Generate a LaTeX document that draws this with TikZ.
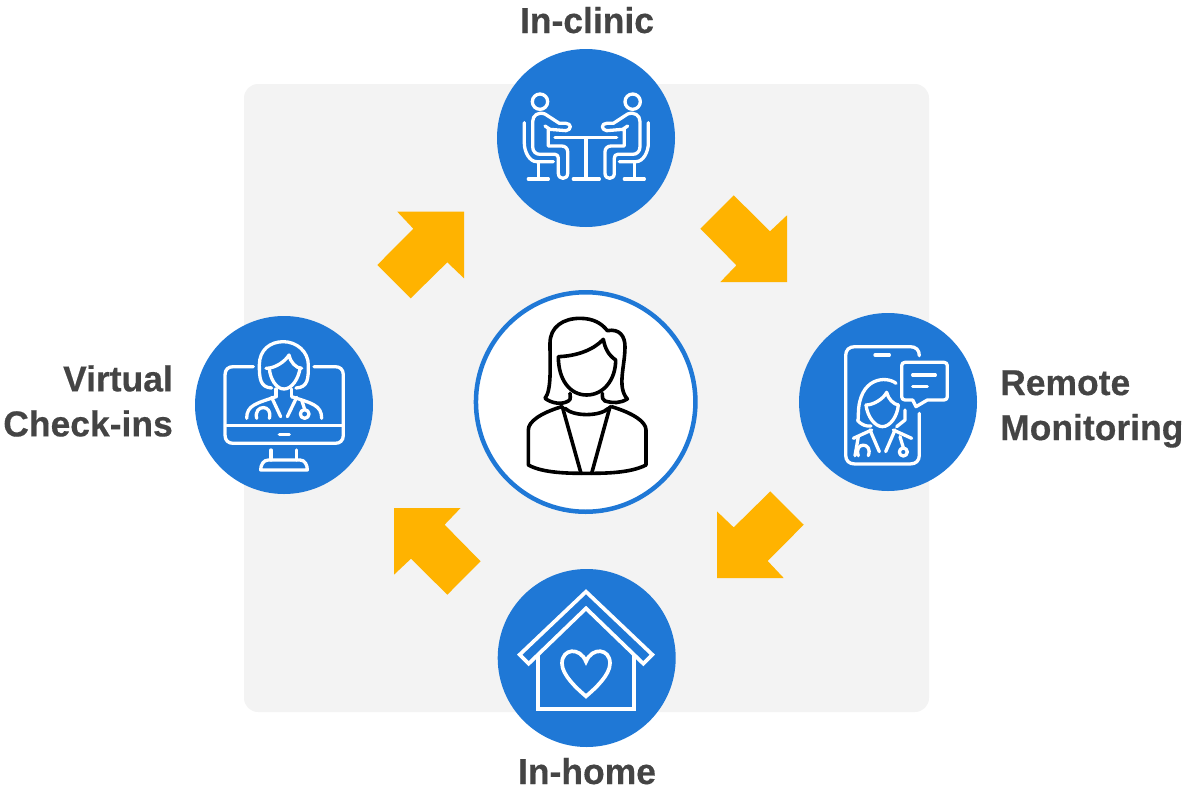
\documentclass[tikz,border=0pt]{standalone}
\usepackage{fontspec}
\setmainfont[FakeStretch=0.985,FakeBold=0.4]{Liberation Sans}
\definecolor{panelgrey}{HTML}{F3F3F3}
\definecolor{hubblue}{HTML}{1F78D6}
\definecolor{amber}{HTML}{FFB300}
\definecolor{labelgrey}{HTML}{444444}
\tikzset{
  hub/.style={circle,fill=hubblue,minimum size=178pt,inner sep=0pt,draw=none},
  centre/.style={circle,fill=white,draw=hubblue,line width=4.5pt,minimum size=219.5pt,inner sep=0pt},
  lab/.style={font=\fontsize{36}{45}\selectfont\bfseries,text=labelgrey,inner sep=0pt},
  blockarrow/.style={fill=amber,draw=none},
  ico/.style={draw=white,line width=3.3pt,line cap=round,line join=round},
  blk/.style={draw=black,line width=3.6pt,line cap=round,line join=round},
  zoomed/.style={x=0.33333pt,y=-0.33333pt}
}
\newcommand{\clinicperson}{%
  \draw[ico] (150,185) circle (23);
  \draw[ico] (165,258) -- (180,268) -- (228,272) .. controls (245,270) and (245,250) .. (228,250) -- (208,250) -- (165,222)
     .. controls (145,215) and (128,225) .. (128,245) -- (128,320) .. controls (128,335) and (138,343) .. (150,343) -- (195,343)
     .. controls (202,343) and (205,348) .. (205,355) -- (205,400) .. controls (205,420) and (233,420) .. (233,400) -- (233,335)
     .. controls (233,325) and (225,318) .. (215,318) -- (175,318) -- (175,268);
  \draw[ico] (103,248) -- (103,310) .. controls (103,335) and (118,365) .. (140,365) -- (190,365);
  \draw[ico] (145,365) -- (145,417);
  \draw[ico] (115,417) -- (175,417);
}
\begin{document}
\begin{tikzpicture}[x=1pt,y=-1pt]
\useasboundingbox (0,0) rectangle (1186,790);
\fill[panelgrey,rounded corners=14pt] (244,84) rectangle (929,712);

% block arrows
\fill[blockarrow] (464,211.7) -- (397.3,211.7) -- (413.3,228.7) -- (377.3,265) -- (410.7,298.3) -- (447.3,262.3) -- (464,278.3) -- cycle;
\fill[blockarrow] (787,282) -- (787,215.3) -- (770,231.3) -- (733.7,195.3) -- (700.4,228.7) -- (736.4,265.3) -- (720.4,282) -- cycle;
\fill[blockarrow] (717,578) -- (783.7,578) -- (767.7,561) -- (803.7,524.7) -- (770.3,491.4) -- (733.7,527.4) -- (717,511.4) -- cycle;
\fill[blockarrow] (394,508) -- (394,574.7) -- (411,558.7) -- (447.3,594.7) -- (480.6,561.3) -- (444.6,524.7) -- (460.6,508) -- cycle;

% circles
\node[hub] (clinic) at (586,138) {};
\node[hub] (remote) at (888,402) {};
\node[hub] (virtual) at (284,405) {};
\node[hub] (home) at (586.7,658) {};
\node[centre] (patient) at (585.7,402) {};

% labels
\node[lab,anchor=base] (clinicl) at (587,33) {In-clinic};
\node[lab,anchor=base] (homel) at (587,784) {In-home};
\node[lab,anchor=east,align=right] (virtuall) at (173,401) {Virtual\\Check-ins};
\node[lab,anchor=west,align=left] (remotel) at (1000,409) {Remote\\Monitoring};

% in-clinic icon
\begin{scope}[shift={(490,40)},zoomed]
  \clinicperson
  \begin{scope}[shift={(578,0)},xscale=-1]
    \clinicperson
  \end{scope}
  \draw[ico] (195,293) -- (380,293);
  \draw[ico] (288,293) -- (288,417);
  \draw[ico] (250,417) -- (328,417);
\end{scope}

% remote icon
\begin{scope}[shift={(790,305)},zoomed]
  \draw[ico] (388,152) .. controls (388,135) and (378,125) .. (360,125) -- (195,125) .. controls (177,125) and (167,135) .. (167,152)
     -- (167,450) .. controls (167,467) and (177,477) .. (195,477) -- (360,477) .. controls (378,477) and (388,467) .. (388,450) -- (388,325);
  \draw[ico] (255,150) -- (298,150);
  \draw[ico] (345,172) -- (462,172) .. controls (468,172) and (472,176) .. (472,182) -- (472,275) .. controls (472,281) and (468,285) .. (462,285)
     -- (412,285) -- (378,305) -- (368,285) -- (345,285) .. controls (339,285) and (335,281) .. (335,275) -- (335,182) .. controls (335,176) and (339,172) .. (345,172) -- cycle;
  \draw[ico] (368,210) -- (436,210);
  \draw[ico] (368,245) -- (412,245);
  \draw[ico] (318,235) .. controls (290,212) and (205,215) .. (205,330) .. controls (205,340) and (205,345) .. (203,347) .. controls (215,360) and (230,365) .. (243,363);
  \draw[ico] (228,300) .. controls (250,300) and (280,282) .. (290,262) .. controls (295,282) and (310,298) .. (325,300);
  \draw[ico] (228,300) .. controls (232,335) and (255,365) .. (277,365) .. controls (300,365) and (322,335) .. (325,300);
  \draw[ico] (345,315) -- (345,345) -- (320,365);
  \draw[ico] (190,400) -- (245,375);
  \draw[ico] (365,400) -- (310,375);
  \draw[ico] (240,375) -- (268,440);
  \draw[ico] (315,375) -- (287,440);
  \draw[ico] (205,395) -- (195,452);
  \draw[ico] (205,452) .. controls (190,410) and (250,410) .. (235,452);
  \draw[ico] (330,395) -- (340,428);
  \draw[ico] (340,441) circle (12);
\end{scope}

% virtual icon
\begin{scope}[shift={(190,310)},zoomed]
  \draw[ico] (190,170) -- (130,170) .. controls (115,170) and (105,178) .. (105,195) -- (105,375) .. controls (105,392) and (115,400) .. (130,400)
     -- (435,400) .. controls (450,400) and (460,392) .. (460,375) -- (460,195) .. controls (460,178) and (450,170) .. (435,170) -- (372,170);
  \draw[ico] (110,347) -- (455,347);
  \draw[ico] (268,373) -- (298,373);
  \draw[ico] (243,420) -- (243,450);
  \draw[ico] (320,420) -- (320,450);
  \draw[ico] (235,450) -- (330,450) .. controls (345,450) and (352,465) .. (352,480) -- (212,480) .. controls (212,465) and (220,450) .. (235,450) -- cycle;
  \draw[ico] (245,234) .. controls (210,232) and (208,205) .. (208,165) .. controls (208,120) and (240,95) .. (280,95)
     .. controls (320,95) and (355,125) .. (355,165) .. controls (355,205) and (355,232) .. (318,234);
  \draw[ico] (228,175) .. controls (255,175) and (285,155) .. (297,135) .. controls (300,155) and (318,175) .. (335,175);
  \draw[ico] (238,175) .. controls (240,205) and (258,237) .. (282,237) .. controls (306,237) and (326,205) .. (330,175);
  \draw[ico] (258,237) -- (258,260);
  \draw[ico] (305,237) -- (305,260);
  \draw[ico] (170,325) .. controls (170,285) and (200,280) .. (258,260);
  \draw[ico] (395,325) .. controls (395,285) and (365,280) .. (305,260);
  \draw[ico] (245,262) -- (272,320);
  \draw[ico] (320,262) -- (292,320);
  \draw[ico] (200,325) .. controls (190,282) and (250,282) .. (238,325);
  \draw[ico] (335,270) -- (344,298);
  \draw[ico] (344,312) circle (13);
\end{scope}

% patient icon
\begin{scope}[shift={(470,290)},zoomed]
  \draw[blk] (300,310) .. controls (302,330) and (300,330) .. (295,333) .. controls (275,345) and (245,340) .. (225,325)
     .. controls (245,300) and (240,230) .. (240,160) .. controls (240,110) and (280,85) .. (330,85)
     .. controls (370,85) and (395,100) .. (412,122) .. controls (450,115) and (465,140) .. (465,170)
     .. controls (465,230) and (440,290) .. (472,327) .. controls (450,340) and (430,340) .. (405,333) .. controls (398,330) and (397,325) .. (397,310);
  \draw[blk] (265,200) .. controls (320,198) and (370,180) .. (400,148) .. controls (405,175) and (415,195) .. (437,210)
     .. controls (437,270) and (400,315) .. (350,315) .. controls (300,315) and (265,270) .. (265,200) -- cycle;
  \draw[blk] (275,350) .. controls (210,370) and (175,395) .. (175,420) -- (175,525) .. controls (220,550) and (300,550) .. (350,550)
     .. controls (400,550) and (480,550) .. (528,525) -- (528,420) .. controls (528,395) and (490,370) .. (425,350);
  \draw[blk] (285,355) .. controls (310,380) and (390,380) .. (415,355);
  \draw[blk] (277,350) -- (333,550);
  \draw[blk] (420,350) -- (365,550);
\end{scope}

% home icon
\begin{scope}[shift={(490,565)},zoomed]
  \draw[draw=white,line width=3.7pt,miter limit=10] (288,80) -- (487,269) -- (460,296) -- (288,130) -- (116,296) -- (89,269) -- cycle;
  \draw[draw=white,line width=3.7pt] (145,270) -- (145,432) -- (432,432) -- (432,270);
  \draw[draw=white,line width=3.7pt,line join=miter] (288,290) .. controls (270,245) and (216,250) .. (216,295) .. controls (216,330) and (260,370) .. (288,394)
     .. controls (316,370) and (360,330) .. (360,295) .. controls (360,250) and (306,245) .. (288,290) -- cycle;
\end{scope}
\end{tikzpicture}
\end{document}
